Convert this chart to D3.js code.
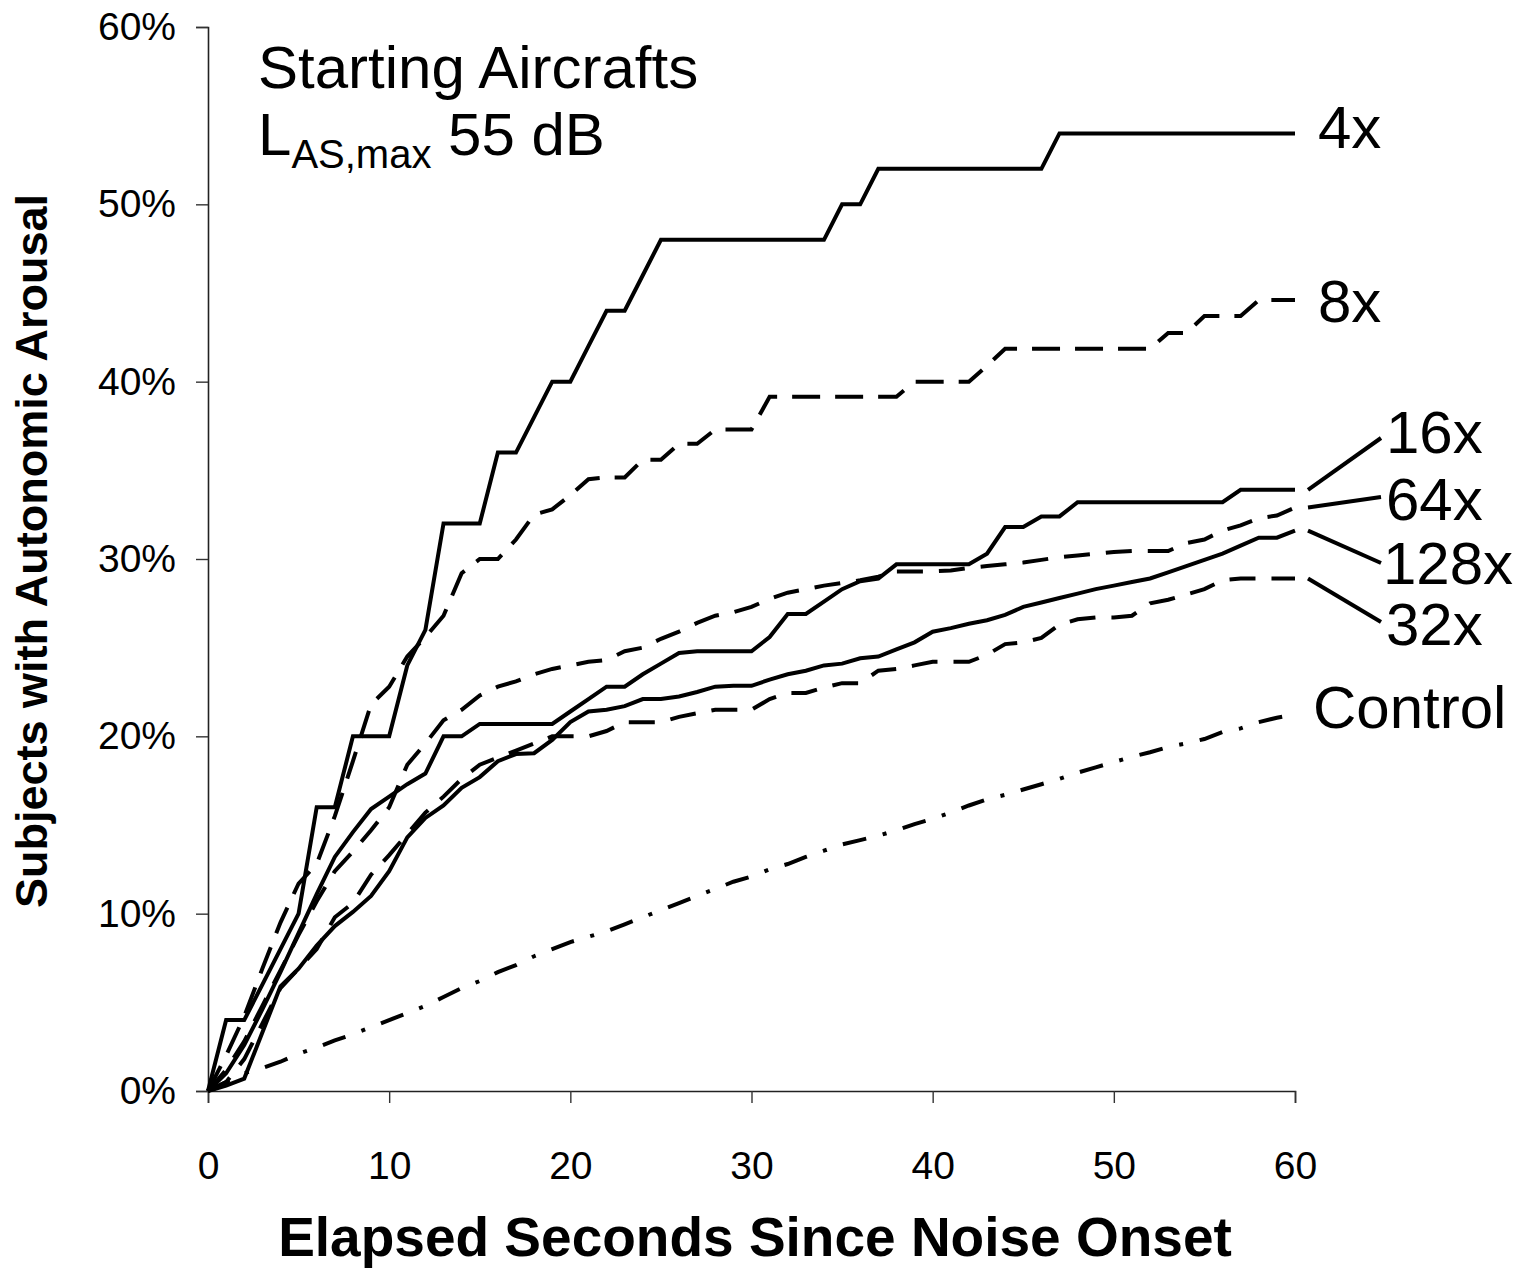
<!DOCTYPE html>
<html>
<head>
<meta charset="utf-8">
<script src="https://cdn.jsdelivr.net/npm/d3@7"></script>
<style>
  html, body { margin: 0; padding: 0; background: #fff; }
  svg { display: block; }
  text { font-family: "Liberation Sans", Arial, sans-serif; fill: #000; }
</style>
</head>
<body>
<svg id="chart" width="1539" height="1274"></svg>
<script>
// Elapsed seconds after noise onset (one reading per second)
const seconds = d3.range(0, 61);

// Cumulative share of subjects with autonomic arousal, in percent
const series4x = [0,4,4,6,8,10,16,16,20,20,20,24,26,32,32,32,36,36,38,40,40,42,44,44,46,48,48,48,48,48,48,48,48,48,48,50,50,52,52,52,52,52,52,52,52,52,52,54,54,54,54,54,54,54,54,54,54,54,54,54,54];
const series8x = [0,2.0,4.2,6.9,9.5,11.7,12.8,15.5,18.6,21.8,22.8,24.5,25.6,26.8,29.2,30.0,30.0,31.1,32.5,32.8,33.6,34.5,34.6,34.6,35.6,35.6,36.5,36.5,37.3,37.3,37.3,39.15,39.15,39.15,39.15,39.15,39.15,39.15,39.15,40.0,40.0,40.0,40.0,40.9,41.85,41.85,41.85,41.85,41.85,41.85,41.85,41.85,41.85,42.75,42.75,43.7,43.7,43.7,44.6,44.6,44.6];
const series16x = [0,1.0,2.6,4.6,6.7,8.9,11.1,13.2,14.6,15.9,16.6,17.3,17.9,20.0,20.0,20.7,20.7,20.7,20.7,20.7,21.4,22.1,22.8,22.8,23.5,24.1,24.7,24.8,24.8,24.8,24.8,25.6,26.9,26.9,27.6,28.3,28.75,28.9,29.7,29.7,29.7,29.7,29.7,30.3,31.8,31.8,32.4,32.4,33.2,33.2,33.2,33.2,33.2,33.2,33.2,33.2,33.2,33.9,33.9,33.9,33.9];
const series64x = [0,1.2,2.8,4.8,6.8,8.8,10.7,12.4,13.5,14.7,16.0,18.4,19.6,20.9,21.5,22.3,22.8,23.1,23.5,23.8,24.0,24.2,24.3,24.8,25.0,25.5,25.9,26.4,26.8,27.0,27.3,27.75,28.1,28.3,28.5,28.65,28.8,29.0,29.3,29.3,29.3,29.35,29.5,29.6,29.7,29.8,29.95,30.1,30.2,30.3,30.4,30.45,30.45,30.45,30.9,31.1,31.6,31.9,32.3,32.45,32.9];
const series128x = [0,0.3,0.7,3.3,5.9,6.9,8.2,9.3,10.1,11.0,12.4,14.3,15.4,16.1,17.1,17.7,18.6,19.0,19.05,19.8,20.8,21.4,21.5,21.7,22.1,22.1,22.25,22.5,22.8,22.85,22.85,23.2,23.5,23.7,24.0,24.1,24.4,24.5,24.9,25.3,25.9,26.1,26.35,26.55,26.85,27.3,27.55,27.8,28.05,28.3,28.5,28.7,28.9,29.25,29.6,29.95,30.3,30.75,31.2,31.2,31.6];
const series32x = [0,0.5,1.8,3.8,5.8,6.9,8.0,9.8,10.6,12.2,13.3,14.5,15.7,16.6,17.6,18.4,18.8,19.2,19.6,20.0,20.0,20.0,20.3,20.8,20.8,20.8,21.1,21.3,21.5,21.5,21.5,22.1,22.45,22.45,22.75,23.0,23.0,23.7,23.8,24.0,24.2,24.2,24.2,24.6,25.2,25.3,25.55,26.3,26.6,26.7,26.7,26.8,27.5,27.7,28.0,28.3,28.8,28.9,28.9,28.9,28.9];
const seriesControl = [0,0.5,1.0,1.3,1.65,2.1,2.45,2.85,3.2,3.6,4.0,4.4,4.8,5.3,5.8,6.2,6.7,7.1,7.6,8.0,8.4,8.7,9.0,9.4,9.8,10.2,10.6,11.0,11.4,11.8,12.1,12.5,12.8,13.2,13.55,13.9,14.15,14.4,14.7,15.05,15.35,15.7,16.1,16.45,16.7,17.0,17.3,17.6,17.95,18.25,18.55,18.85,19.1,19.4,19.6,19.85,20.25,20.45,20.8,21.05,21.25];

// Series names as printed beside each curve
const seriesNames = ["4x", "8x", "16x", "64x", "128x", "32x", "Control"];

// Axis tick values
const xTicks = [0, 10, 20, 30, 40, 50, 60];
const yTicks = [0, 10, 20, 30, 40, 50, 60];

const svg = d3.select("#chart");

const x = d3.scaleLinear().domain([0, 60]).range([208, 1295]);
const y = d3.scaleLinear().domain([0, 60]).range([1091, 27]);

// Axes
const xAxis = d3.axisBottom(x).tickValues(xTicks).tickSize(12).tickPadding(48)
  .tickFormat(d3.format("d"));
const yAxis = d3.axisLeft(y).tickValues(yTicks).tickSize(12).tickPadding(20)
  .tickFormat(d => d + "%");

const gx = svg.append("g").attr("transform", "translate(0,1091)").call(xAxis);
const gy = svg.append("g").attr("transform", "translate(208,0)").call(yAxis);
[gx, gy].forEach(g => {
  g.select(".domain").attr("stroke", "#222").attr("stroke-width", 1.6);
  g.selectAll(".tick line").attr("stroke", "#333").attr("stroke-width", 1.4);
  g.selectAll(".tick text")
    .style("font-family", "'Liberation Sans', Arial, sans-serif")
    .style("font-size", "39px").attr("fill", "#000");
});

// Curves
const line = d3.line().x((d, i) => x(seconds[i])).y(d => y(d));
const curves = [
  { values: series4x, dash: null },
  { values: series8x, dash: "28,15" },
  { values: series16x, dash: null },
  { values: series64x, dash: "26,16" },
  { values: series128x, dash: null },
  { values: series32x, dash: "26,16" },
  { values: seriesControl, dash: "24,17,4,17" }
];
svg.append("g").selectAll("path").data(curves).join("path")
  .attr("d", d => line(d.values))
  .attr("fill", "none")
  .attr("stroke", "#000")
  .attr("stroke-width", 4)
  .attr("stroke-linejoin", "miter")
  .attr("stroke-dasharray", d => d.dash);

// Curve names at the right end, with leader strokes for the crowded group
const labelPos = [
  { name: seriesNames[0], x: 1318, y: 148 },
  { name: seriesNames[1], x: 1318, y: 322 },
  { name: seriesNames[2], x: 1386, y: 453 },
  { name: seriesNames[3], x: 1386, y: 520 },
  { name: seriesNames[4], x: 1383, y: 584 },
  { name: seriesNames[5], x: 1386, y: 645 },
  { name: seriesNames[6], x: 1313, y: 728 }
];
svg.append("g").selectAll("text").data(labelPos).join("text")
  .attr("x", d => d.x).attr("y", d => d.y)
  .style("font-size", "60px")
  .text(d => d.name);

const leaders = [
  { from: series16x[60], to: 438 },
  { from: series64x[60], to: 497 },
  { from: series128x[60], to: 563 },
  { from: series32x[60], to: 622 }
];
svg.append("g").selectAll("line").data(leaders).join("line")
  .attr("x1", x(60) + 13).attr("y1", d => y(d.from))
  .attr("x2", 1381).attr("y2", d => d.to)
  .attr("stroke", "#000").attr("stroke-width", 4);

// Panel caption
svg.append("text").attr("x", 258).attr("y", 88).style("font-size", "60px")
  .text("Starting Aircrafts");
const cap = svg.append("text").attr("x", 258).attr("y", 155).style("font-size", "60px");
cap.append("tspan").text("L");
cap.append("tspan").attr("dy", 13).style("font-size", "40px").text("AS,max");
cap.append("tspan").attr("dy", -13).text(" 55 dB");

// Axis titles
svg.append("text").attr("x", 755).attr("y", 1256).attr("text-anchor", "middle")
  .style("font-size", "55px").style("font-weight", "bold")
  .text("Elapsed Seconds Since Noise Onset");
svg.append("text").attr("transform", "translate(47,551) rotate(-90)")
  .attr("text-anchor", "middle")
  .style("font-size", "45px").style("font-weight", "bold")
  .text("Subjects with Autonomic Arousal");
</script>
</body>
</html>
